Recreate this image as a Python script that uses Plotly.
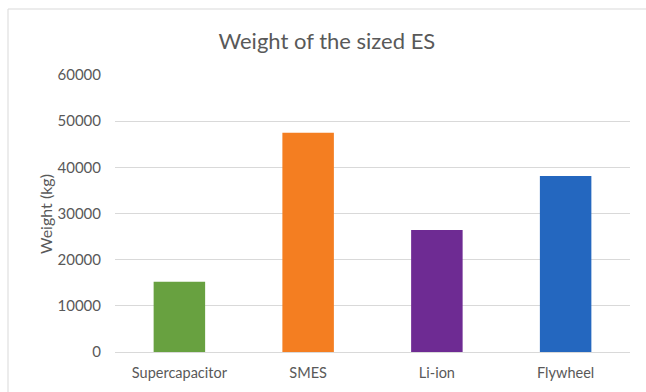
import plotly.graph_objects as go

# Energy storage technologies and their sized weight (kg)
categories = ["Supercapacitor", "SMES", "Li-ion", "Flywheel"]
weights = [15200, 47500, 26400, 38100]
bar_colors = ["#68a140", "#f47e21", "#6e2b93", "#2467bf"]
y_ticks = [0, 10000, 20000, 30000, 40000, 50000, 60000]

W, H = 646, 392
L, R, T, B = 115, 16, 75, 40
pw, ph = W - L - R, H - T - B


def px_to_paper(x, y):
    return (x - L) / pw, (H - B - y) / ph


fig = go.Figure(
    go.Bar(
        x=categories,
        y=weights,
        marker=dict(color=bar_colors, line=dict(width=0)),
        width=0.4,
        hoverinfo="x+y",
    )
)

font_family = "Lato, 'Open Sans', sans-serif"
grey = "#595959"

fig.update_layout(
    width=W,
    height=H,
    margin=dict(l=L, r=R, t=T, b=B),
    paper_bgcolor="white",
    plot_bgcolor="white",
    showlegend=False,
    font=dict(family=font_family, size=14, color=grey),
    title=dict(
        text="Weight of the sized ES",
        x=0.506,
        xanchor="center",
        y=1 - 41 / H,
        yanchor="middle",
        yref="container",
        font=dict(size=22, color=grey, family=font_family),
    ),
    xaxis=dict(
        showgrid=False,
        showline=False,
        ticks="",
        ticklabelstandoff=10,
        tickfont=dict(size=14.5, color=grey),
    ),
    yaxis=dict(
        range=[0, 60000],
        tickvals=y_ticks,
        ticktext=[str(v) for v in y_ticks],
        showgrid=True,
        gridcolor="#d9d9d9",
        gridwidth=1,
        zeroline=True,
        zerolinecolor="#d9d9d9",
        zerolinewidth=1,
        showline=False,
        ticks="",
        ticklabelstandoff=13,
        tickfont=dict(size=15, color=grey),
    ),
)

# Y axis title
ax, ay = px_to_paper(45, 214)
fig.add_annotation(
    text="Weight (kg)",
    x=ax,
    y=ay,
    xref="paper",
    yref="paper",
    textangle=-90,
    showarrow=False,
    xanchor="center",
    yanchor="middle",
    font=dict(size=16, color=grey, family=font_family),
)

# Outer chart frame
x0, y0 = px_to_paper(8, 9)
x1, y1 = px_to_paper(W + 10, H + 10)
fig.add_shape(
    type="rect",
    xref="paper",
    yref="paper",
    x0=x0,
    y0=y1,
    x1=x1,
    y1=y0,
    line=dict(color="#d9d9d9", width=1),
    fillcolor="rgba(0,0,0,0)",
    layer="below",
)

fig.write_html("out.html")
